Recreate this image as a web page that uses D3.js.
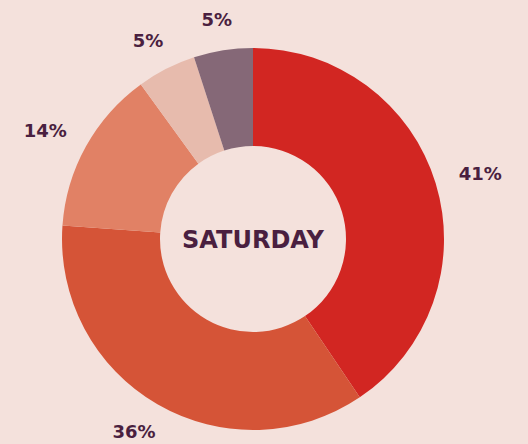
<!DOCTYPE html>
<html>
<head>
<meta charset="utf-8">
<script src="https://cdn.jsdelivr.net/npm/d3@7"></script>
<style>
  body { margin: 0; background: #f4e1dc; }
  svg { display: block; }
</style>
</head>
<body>
<div id="chart"></div>
<script>
// share per segment (labels are the rounded numbers shown)
const segments = ["A", "B", "C", "D", "E"];
const shares = [40.6, 35.6, 13.9, 5.0, 5.0];
const labels = ["41%", "36%", "14%", "5%", "5%"];
const colors = ["#d22622", "#d55437", "#e18165", "#e7bbad", "#856877"];
const centerLabel = "SATURDAY";

const width = 528;
const height = 444;
const cx = 253, cy = 239;
const outerR = 191, innerR = 93, labelGap = 216;

const svg = d3
  .select("#chart")
  .append("svg")
  .attr("width", width)
  .attr("height", height);

svg.append("rect").attr("width", width).attr("height", height).attr("fill", "#f4e1dc");

const g = svg.append("g").attr("transform", `translate(${cx},${cy})`);

const data = segments.map((s, i) => ({ name: s, value: shares[i], label: labels[i], color: colors[i] }));

const pie = d3.pie().sort(null).value((d) => d.value);
const arc = d3.arc().innerRadius(innerR).outerRadius(outerR);

const arcs = pie(data);

g.selectAll(".slice")
  .data(arcs)
  .enter()
  .append("path")
  .attr("class", "slice")
  .attr("d", arc)
  .attr("fill", (d) => d.data.color);

const pct = g
  .selectAll(".pct")
  .data(arcs)
  .enter()
  .append("text")
  .attr("class", "pct")
  .attr("text-anchor", "middle")
  .attr("dy", "0.36em")
  .style("font-family", "'DejaVu Sans', sans-serif")
  .style("font-weight", "bold")
  .style("font-size", "18px")
  .attr("fill", "#4a1f40")
  .text((d) => d.data.label);

// push each label outward so its nearest edge sits just outside the ring
pct.attr("transform", function (d) {
  const a = (d.startAngle + d.endAngle) / 2;
  const ux = Math.sin(a), uy = -Math.cos(a);
  const box = this.getBBox();
  const x = ux * labelGap + ux * box.width / 2;
  const y = uy * labelGap + uy * 13 / 2;
  return `translate(${x},${y})`;
});

g.append("text")
  .attr("text-anchor", "middle")
  .attr("dy", "0.36em")
  .style("font-family", "'DejaVu Sans', sans-serif")
  .style("font-weight", "bold")
  .style("font-size", "24px")
  .attr("fill", "#4a1f40")
  .text(centerLabel);
</script>
</body>
</html>
